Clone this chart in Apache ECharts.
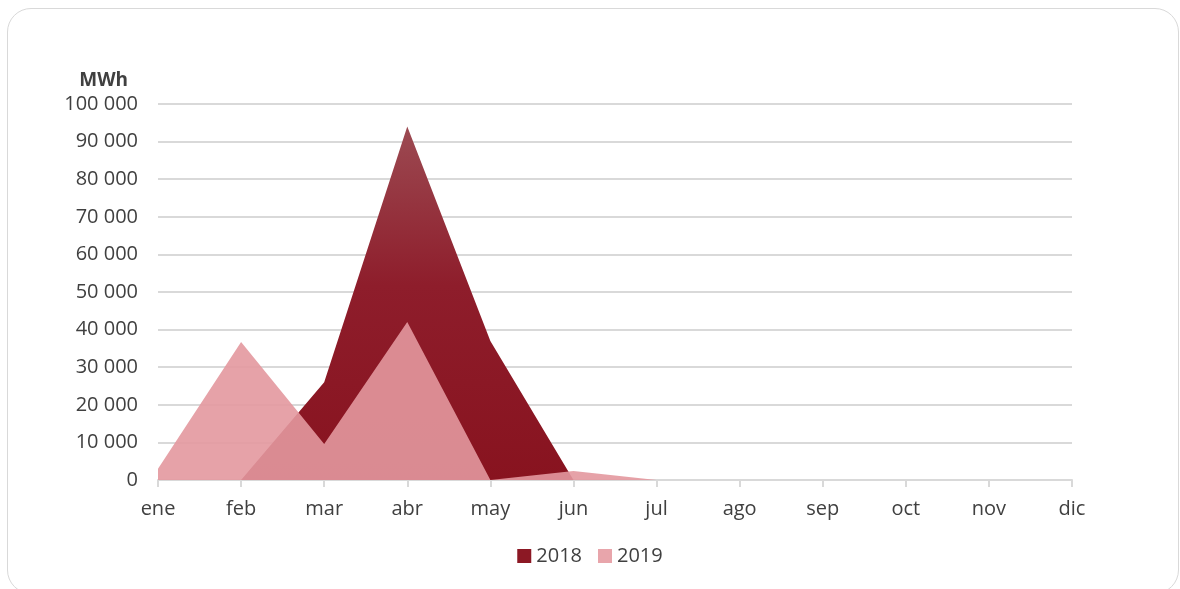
<!DOCTYPE html>
<html>
<head>
<meta charset="utf-8">
<script src="https://cdn.jsdelivr.net/npm/echarts@6/dist/echarts.min.js"></script>
<style>
    html, body { margin: 0; padding: 0; background: #fff; overflow: hidden; }
    #card {
        position: absolute; left: 7px; top: 8px; width: 1172px; height: 586px;
        border: 1.5px solid #d9d9d9; border-radius: 24px; box-sizing: border-box;
    }
    #chart { position: absolute; left: 0; top: 0; width: 1180px; height: 589px; }
</style>
</head>
<body>
<div id="card"></div>
<div id="chart"></div>
<script>
// 数据
const months = ['ene', 'feb', 'mar', 'abr', 'may', 'jun', 'jul', 'ago', 'sep', 'oct', 'nov', 'dic'];
const values2018 = [0, 0, 26000, 94000, 37000, 0, 0, 0, 0, 0, 0, 0];
const values2019 = [3000, 36700, 9600, 42000, 0, 2400, 0, 0, 0, 0, 0, 500];

const chart = echarts.init(document.getElementById('chart'));

const fmt = v => String(v).replace(/\B(?=(\d{3})+(?!\d))/g, ' ');

const option = {
    backgroundColor: 'transparent',
    animation: false,
    textStyle: { fontFamily: 'Open Sans' },
    grid: { left: 158, right: 108, top: 104, bottom: 109 },
    legend: {
        bottom: 18,
        left: 'center',
        icon: 'rect',
        itemWidth: 14,
        itemHeight: 14,
        itemGap: 16,
        textStyle: { color: '#404040', fontSize: 20, fontFamily: 'Open Sans' },
        data: ['2018', '2019']
    },
    xAxis: {
        type: 'category',
        boundaryGap: false,
        data: months,
        axisLine: { lineStyle: { color: '#d9d9d9', width: 2 } },
        axisTick: { show: true, length: 7, lineStyle: { color: '#d9d9d9', width: 2 } },
        axisLabel: { color: '#404040', fontSize: 20, margin: 19 }
    },
    yAxis: {
        type: 'value',
        min: 0,
        max: 100000,
        interval: 10000,
        name: 'MWh',
        nameLocation: 'end',
        nameGap: 14,
        nameTextStyle: { color: '#404040', fontSize: 19, fontWeight: 'bold', align: 'right', padding: [0, 30, 0, 0] },
        axisLine: { show: false },
        axisTick: { show: false },
        axisLabel: { color: '#404040', fontSize: 20, margin: 20, formatter: fmt },
        splitLine: { lineStyle: { color: '#d9d9d9', width: 2 } }
    },
    series: [
        {
            name: '2018',
            type: 'line',
            data: values2018,
            symbol: 'none',
            lineStyle: { width: 0 },
            itemStyle: { color: '#8c1824' },
            areaStyle: {
                opacity: 1,
                color: new echarts.graphic.LinearGradient(0, 0, 0, 1, [
                    { offset: 0, color: '#9c4a52' },
                    { offset: 0.45, color: '#8e1d2b' },
                    { offset: 1, color: '#88131f' }
                ])
            }
        },
        {
            name: '2019',
            type: 'line',
            data: values2019,
            symbol: 'none',
            lineStyle: { width: 0 },
            itemStyle: { color: '#e8a5ab' },
            areaStyle: { color: '#e3989f', opacity: 0.9 }
        }
    ]
};

chart.setOption(option);

window.addEventListener('resize', () => {
    chart && chart.resize();
});
</script>
</body>
</html>
